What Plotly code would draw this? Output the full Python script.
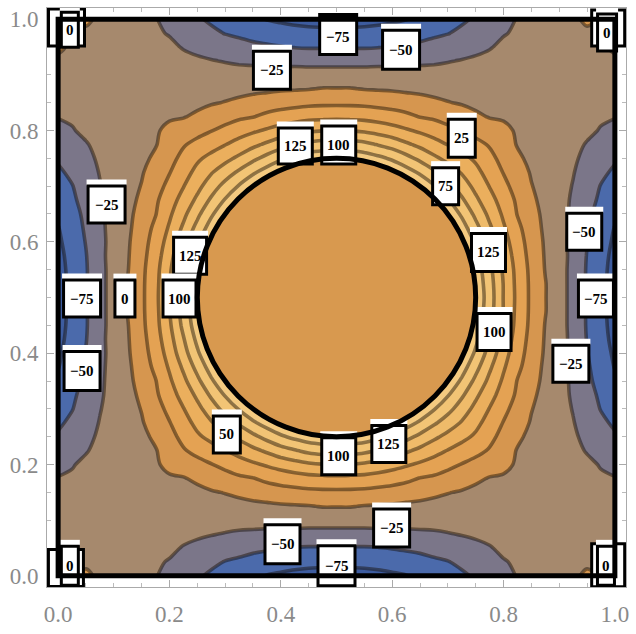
import numpy as np
import plotly.graph_objects as go

# Sample positions of the lower-left quadrant (0 .. 0.5, step 0.025)
quadrant_axis = [round(0.025 * k, 3) for k in range(21)]

# Field values on the lower-left quadrant: row = y index, column = x index
quadrant_values = [
    [-5, -2, 6, -6, -12, -16, -20, -24, -31, -39, -47, -54, -60, -65, -70, -76, -79, -83, -86, -87, -88],
    [-2, -7, -6, -10, -13, -16, -19, -23, -26, -32, -38, -45, -51, -54, -58, -61, -64, -65, -66, -67, -68],
    [6, -6, -10, -12, -13, -15, -18, -21, -22, -26, -30, -34, -38, -42, -45, -47, -49, -51, -52, -52, -52],
    [-6, -10, -12, -13, -13, -14, -16, -18, -19, -21, -22, -24, -26, -28, -29, -30, -31, -31, -32, -32, -32],
    [-12, -13, -13, -13, -12, -12, -13, -15, -15, -16, -17, -17, -17, -17, -17, -17, -17, -16, -16, -16, -16],
    [-16, -16, -15, -14, -12, -10, -10, -11, -11, -12, -11, -10, -9, -8, -6, -5, -3, -2, -1, 1, 1],
    [-20, -19, -18, -16, -13, -10, -7, -8, -8, -7, -4, -2, 1, 5, 9, 13, 15, 17, 19, 20, 20],
    [-24, -23, -21, -18, -15, -11, -8, -3, -3, -1, 3, 11, 16, 21, 24, 30, 35, 39, 42, 43, 44],
    [-31, -26, -22, -19, -15, -11, -8, -3, 6, 8, 18, 24, 31, 39, 46, 53, 60, 66, 71, 74, 74],
    [-39, -32, -26, -21, -16, -12, -7, -1, 8, 23, 31, 40, 49, 59, 69, 79, 90, 98, 106, 110, 112],
    [-47, -38, -30, -22, -17, -11, -4, 3, 18, 31, 46, 57, 68, 80, 94, 108, 121, 131, 139, 143, 145],
    [-54, -45, -34, -24, -17, -10, -2, 11, 24, 40, 57, 73, 88, 104, 121, 136, 150, 163, 172, 178, 180],
    [-60, -51, -38, -26, -17, -9, 1, 16, 31, 49, 68, 88, 108, 127, 145, 165, 182, 196, 200, 200, 200],
    [-65, -54, -42, -28, -17, -8, 5, 21, 39, 59, 80, 104, 127, 149, 172, 194, 200, 200, 200, 200, 200],
    [-70, -58, -45, -29, -17, -6, 9, 24, 46, 69, 94, 121, 145, 172, 198, 200, 200, 200, 200, 200, 200],
    [-76, -61, -47, -30, -17, -5, 13, 30, 53, 79, 108, 136, 165, 194, 200, 200, 200, 200, 200, 200, 200],
    [-79, -64, -49, -31, -17, -3, 15, 35, 60, 90, 121, 150, 182, 200, 200, 200, 200, 200, 200, 200, 200],
    [-83, -65, -51, -31, -16, -2, 17, 39, 66, 98, 131, 163, 196, 200, 200, 200, 200, 200, 200, 200, 200],
    [-86, -66, -52, -32, -16, -1, 19, 42, 71, 106, 139, 172, 200, 200, 200, 200, 200, 200, 200, 200, 200],
    [-87, -67, -52, -32, -16, 1, 20, 43, 74, 110, 143, 178, 200, 200, 200, 200, 200, 200, 200, 200, 200],
    [-88, -68, -52, -32, -16, 1, 20, 44, 74, 112, 145, 180, 200, 200, 200, 200, 200, 200, 200, 200, 200],
]

contour_start, contour_end, contour_step = -75, 125, 25

# one fill colour per band, from below -75 up to above 125
band_colors = ['#3d5c9f', '#4b6aab', '#7b7689', '#a6896d', '#d6964f',
               '#e4a253', '#ebaf5d', '#efbb6a', '#f2c475', '#f4ca80']
disk_color = '#d8994f'

tick_values = [0.0, 0.2, 0.4, 0.6, 0.8, 1.0]
tick_labels = ['0.0', '0.2', '0.4', '0.6', '0.8', '1.0']

# contour labels
label_text = ['', '0', '−75', '−50', '−25', '125', '100', '25', '75', '125',
              '−50', '−75', '−25', '125', '−75', '0', '100', '−50', '100', '−25',
              '50', '100', '125', '−25', '−50', '−75',
              '', '0', '', '0', '', '0']
label_x = [0.015, 0.021, 0.503, 0.616, 0.384, 0.426, 0.504, 0.725, 0.696, 0.773,
           0.945, 0.966, 0.087, 0.237, 0.043, 0.120, 0.218, 0.043, 0.783, 0.921,
           0.303, 0.504, 0.594, 0.599, 0.403, 0.500,
           0.014, 0.021, 0.988, 0.986, 0.988, 0.984]
label_y = [0.985, 0.981, 0.968, 0.945, 0.908, 0.772, 0.774, 0.786, 0.700, 0.581,
           0.618, 0.498, 0.667, 0.575, 0.498, 0.498, 0.498, 0.368, 0.438, 0.381,
           0.254, 0.215, 0.237, 0.086, 0.057, 0.018,
           0.014, 0.018, 0.984, 0.976, 0.019, 0.018]
box_w = [39, 20, 40, 40, 40, 37, 37, 30, 29, 37,
         38, 38, 40, 36, 40, 23, 36, 39, 37, 39,
         30, 37, 37, 39, 38, 40,
         38, 20, 36, 22, 36, 20]
box_h = [40, 38, 38, 42, 41, 39, 41, 41, 40, 41,
         40, 40, 40, 40, 40, 40, 40, 42, 40, 40,
         40, 40, 40, 41, 42, 43,
         40, 42, 39, 40, 46, 42]
bar_color = ['none', 'white', 'black'] + ['white'] * 23 + ['none', 'white', 'none', 'white', 'none', 'white']

# mirror the quadrant to the whole unit square
q = np.array(quadrant_values, dtype=float)
n = len(quadrant_axis)
N = 2 * n - 1
grid_axis = quadrant_axis + [round(1.0 - v, 3) for v in reversed(quadrant_axis[:-1])]
z = np.empty((N, N))
for J in range(N):
    for I in range(N):
        z[J, I] = q[min(J, N - 1 - J), min(I, N - 1 - I)]

n_levels = int(round((contour_end - contour_start) / contour_step)) + 1
colorscale = [[k / n_levels, c] for k, c in enumerate(band_colors)]

fig = go.Figure(go.Contour(
    x=grid_axis, y=grid_axis, z=z,
    autocontour=False,
    contours=dict(start=contour_start, end=contour_end, size=contour_step,
                  coloring='fill', showlines=True),
    colorscale=colorscale, showscale=False,
    line=dict(color='rgba(20,10,0,0.45)', width=3.6, smoothing=1),
    hoverinfo='skip',
))

shapes = [dict(type='circle', xref='x', yref='y', x0=0.25, y0=0.25, x1=0.75, y1=0.75,
               fillcolor=disk_color, line=dict(width=0), layer='above')]
annotations = []
for t, x, y, w, h, bc in zip(label_text, label_x, label_y, box_w, box_h, bar_color):
    if bc != 'none':
        shapes.append(dict(type='rect', xref='x', yref='y', xsizemode='pixel', ysizemode='pixel',
                           xanchor=x, yanchor=y, x0=-w / 2, x1=w / 2, y0=h / 2 - 1, y1=h / 2 + 5,
                           fillcolor=bc, line=dict(width=0), layer='above'))
    shapes.append(dict(type='rect', xref='x', yref='y', xsizemode='pixel', ysizemode='pixel',
                       xanchor=x, yanchor=y, x0=-w / 2 + 1.5, x1=w / 2 - 1.5,
                       y0=-h / 2 + 1.5, y1=h / 2 - 1.5,
                       fillcolor='white', line=dict(color='black', width=3), layer='above'))
    if t:
        annotations.append(dict(x=x, y=y, xref='x', yref='y', text='<b>%s</b>' % t, showarrow=False,
                                font=dict(family='Liberation Serif', size=15, color='black')))

# outer frame and inner circle outline
shapes.append(dict(type='rect', xref='x', yref='y', x0=0, y0=0, x1=1, y1=1,
                   line=dict(color='black', width=5), layer='above'))
shapes.append(dict(type='circle', xref='x', yref='y', x0=0.25, y0=0.25, x1=0.75, y1=0.75,
                   line=dict(color='black', width=5), layer='above'))

axis_common = dict(range=[-0.02, 1.02], tickvals=tick_values, ticktext=tick_labels,
                   ticks='inside', ticklen=7, tickwidth=1, tickcolor='#aaaaaa',
                   showline=True, linecolor='#aaaaaa', linewidth=1, mirror='ticks',
                   showgrid=False, zeroline=False,
                   minor=dict(ticks='inside', ticklen=4, tickcolor='#bbbbbb', dtick=0.05, tick0=0,
                              showgrid=False),
                   tickfont=dict(family='Liberation Serif', size=23, color='#8a8a8a'))

fig.update_layout(
    width=636, height=634,
    margin=dict(l=47, r=7, t=7, b=43),
    paper_bgcolor='white', plot_bgcolor='white',
    xaxis=dict(axis_common, ticklabelstandoff=6),
    yaxis=dict(axis_common, ticklabelstandoff=3),
    shapes=shapes, annotations=annotations,
    showlegend=False,
)

fig.write_html('out.html')
